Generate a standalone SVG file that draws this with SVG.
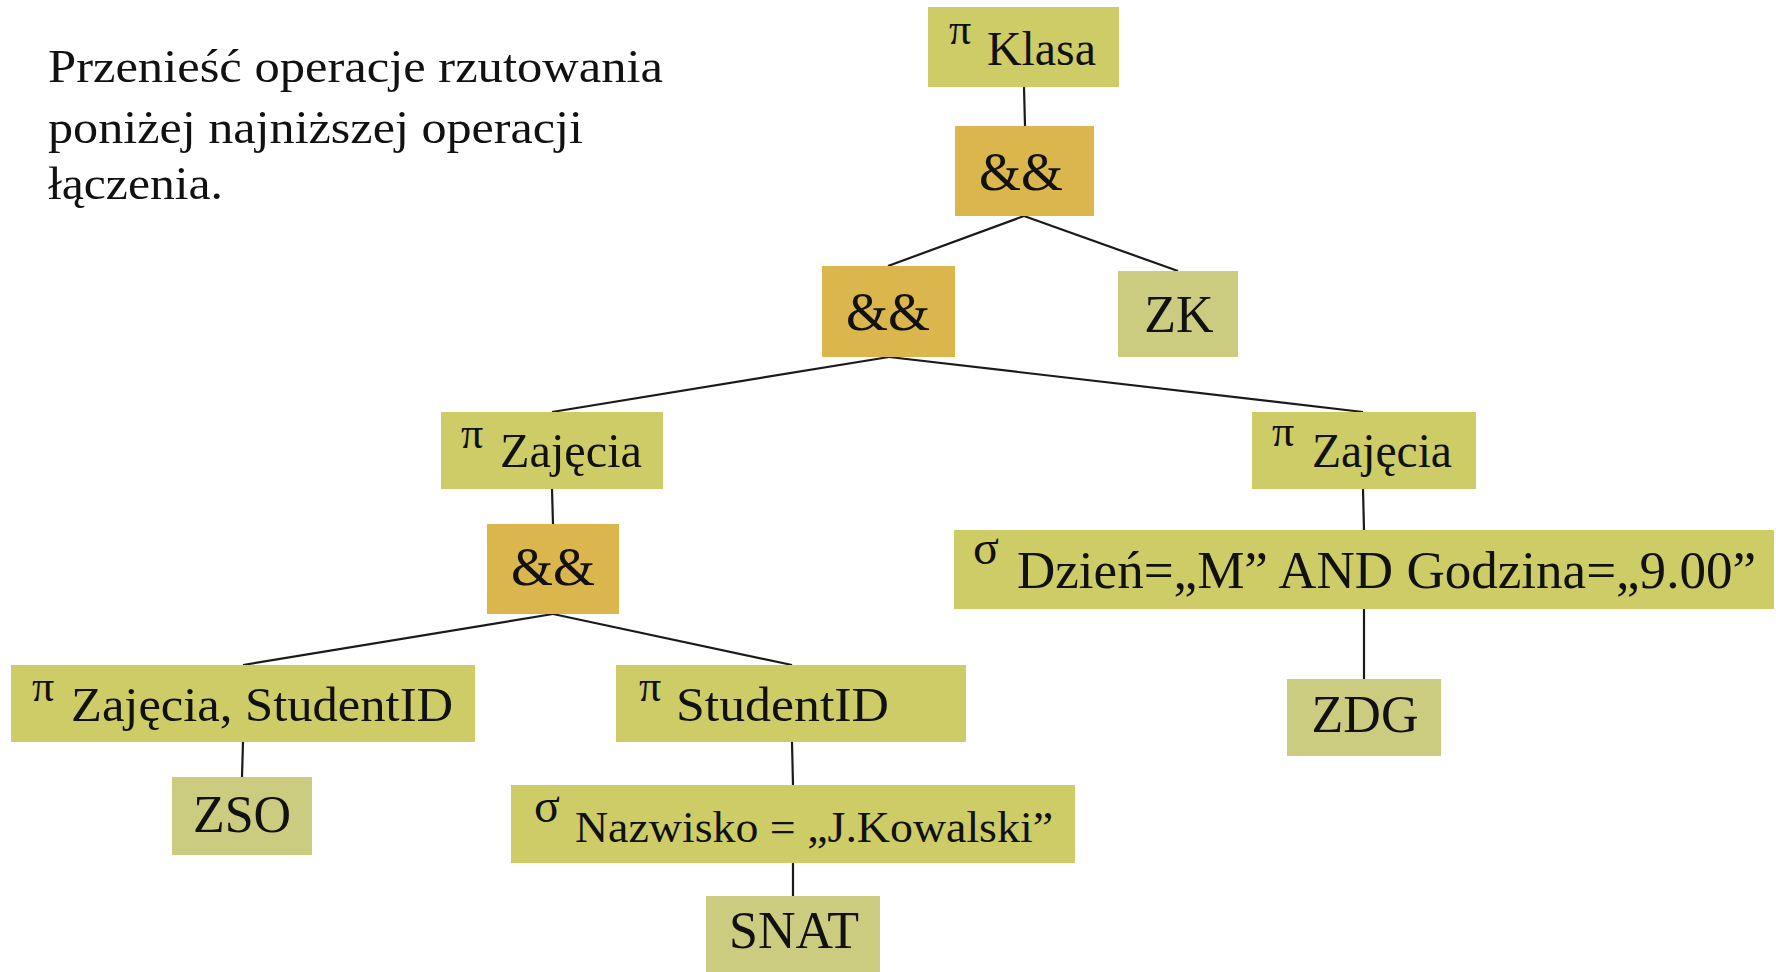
<svg xmlns="http://www.w3.org/2000/svg" width="1776" height="972" viewBox="0 0 1776 972">
<style>
text{font-family:"Liberation Serif","Times New Roman",serif;fill:#111}
.proj{fill:#CDCC66}
.join{fill:#DBB64C}
.leaf{fill:#CCCC80}
.lbl{font-size:48px}
.sym{font-size:44px}
.sig{font-size:48px}
.amp{font-size:54px;text-anchor:middle}
.rel{font-size:52px;text-anchor:middle}
.head{font-size:47px}
.conn line{stroke:#1a1a1a;stroke-width:2.2}
</style>
<rect width="1776" height="972" fill="#fff"/>
<g id="heading">
<text class="head" x="48" y="82" textLength="615" lengthAdjust="spacingAndGlyphs">Przenieść operacje rzutowania</text>
<text class="head" x="48" y="143" textLength="535" lengthAdjust="spacingAndGlyphs">poniżej najniższej operacji</text>
<text class="head" x="48" y="199" textLength="175" lengthAdjust="spacingAndGlyphs">łączenia.</text>
</g>
<g class="conn" id="connectors">
<line x1="1024" y1="87" x2="1025" y2="126"/>
<line x1="1024" y1="216" x2="888" y2="266"/>
<line x1="1024" y1="216" x2="1178" y2="271"/>
<line x1="889" y1="357" x2="552" y2="412"/>
<line x1="889" y1="357" x2="1363" y2="412"/>
<line x1="552" y1="489" x2="553" y2="524"/>
<line x1="553" y1="614" x2="243" y2="665"/>
<line x1="553" y1="614" x2="792" y2="665"/>
<line x1="243" y1="742" x2="242" y2="777"/>
<line x1="792" y1="742" x2="793" y2="785"/>
<line x1="793" y1="863" x2="793" y2="896"/>
<line x1="1363" y1="489" x2="1364" y2="530"/>
<line x1="1364" y1="609" x2="1364" y2="679"/>
</g>
<g id="proj-klasa">
<rect class="proj" x="928" y="7" width="191" height="80"/>
<text class="sym" x="949" y="44">π</text>
<text class="lbl" x="987" y="65" textLength="109" lengthAdjust="spacingAndGlyphs">Klasa</text>
</g>
<g id="join-top">
<rect class="join" x="955" y="126" width="139" height="90"/>
<text class="amp" x="1021" y="190">&amp;&amp;</text>
</g>
<g id="join-mid">
<rect class="join" x="822" y="266" width="133" height="91"/>
<text class="amp" x="888" y="330">&amp;&amp;</text>
</g>
<g id="rel-zk">
<rect class="leaf" x="1118" y="271" width="120" height="86"/>
<text class="rel" x="1179" y="332">ZK</text>
</g>
<g id="proj-zajecia-left">
<rect class="proj" x="441" y="412" width="222" height="77"/>
<text class="sym" x="461" y="448">π</text>
<text class="lbl" x="500" y="467" textLength="142" lengthAdjust="spacingAndGlyphs">Zajęcia</text>
</g>
<g id="proj-zajecia-right">
<rect class="proj" x="1252" y="412" width="224" height="77"/>
<text class="sym" x="1272" y="446">π</text>
<text class="lbl" x="1312" y="467" textLength="140" lengthAdjust="spacingAndGlyphs">Zajęcia</text>
</g>
<g id="join-low">
<rect class="join" x="487" y="524" width="132" height="90"/>
<text class="amp" x="553" y="585">&amp;&amp;</text>
</g>
<g id="sel-dzien">
<rect class="proj" x="954" y="530" width="820" height="79"/>
<text class="sig" x="973" y="564">σ</text>
<text class="lbl" x="1017" y="588" style="font-size:52px" textLength="739" lengthAdjust="spacingAndGlyphs">Dzień=„M” AND Godzina=„9.00”</text>
</g>
<g id="rel-zdg">
<rect class="leaf" x="1287" y="679" width="154" height="77"/>
<text class="rel" x="1365" y="732">ZDG</text>
</g>
<g id="proj-zajecia-studentid">
<rect class="proj" x="11" y="665" width="464" height="77"/>
<text class="sym" x="32" y="701">π</text>
<text class="lbl" x="71" y="721" textLength="382" lengthAdjust="spacingAndGlyphs">Zajęcia, StudentID</text>
</g>
<g id="proj-studentid">
<rect class="proj" x="616" y="665" width="350" height="77"/>
<text class="sym" x="639" y="701">π</text>
<text class="lbl" x="676" y="721" textLength="213" lengthAdjust="spacingAndGlyphs">StudentID</text>
</g>
<g id="rel-zso">
<rect class="leaf" x="172" y="777" width="140" height="78"/>
<text class="rel" x="242" y="832">ZSO</text>
</g>
<g id="sel-nazwisko">
<rect class="proj" x="511" y="785" width="564" height="78"/>
<text class="sig" x="534" y="822">σ</text>
<text class="lbl" x="575" y="842" style="font-size:44px" textLength="478" lengthAdjust="spacingAndGlyphs">Nazwisko = „J.Kowalski”</text>
</g>
<g id="rel-snat">
<rect class="leaf" x="706" y="896" width="174" height="76"/>
<text class="rel" x="794" y="948">SNAT</text>
</g>
</svg>
